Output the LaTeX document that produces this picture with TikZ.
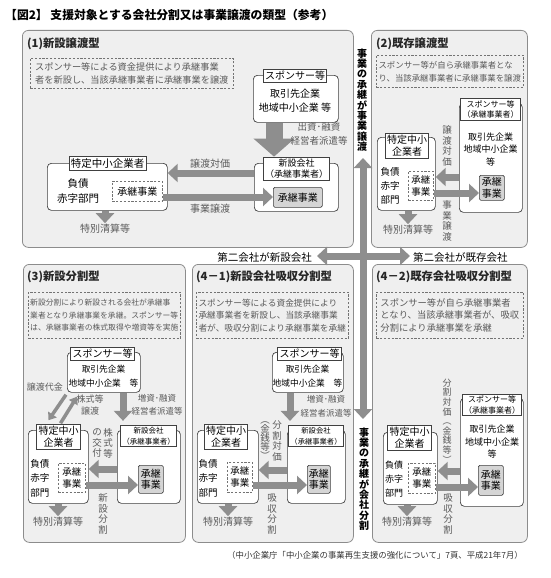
\documentclass[tikz,border=0pt]{standalone}
\usepackage{fontspec}
\setmainfont{Noto Sans CJK JP}
\usetikzlibrary{arrows.meta}

\definecolor{panelgray}{HTML}{EFEFEF}
\definecolor{edgegray}{HTML}{8C8C8C}
\definecolor{arrgray}{HTML}{8E8E8E}
\definecolor{notegray}{HTML}{5A5A5A}
\definecolor{keygray}{HTML}{D5D5D5}

\newcommand{\jfs}[2]{\fontsize{#1}{#2}\selectfont}

\tikzset{
  sz/.style 2 args={minimum width=#1pt, minimum height=#2pt},
  panel/.style={draw=edgegray, fill=panelgray, rounded corners=6pt, line width=.8pt, inner sep=0pt, anchor=north west},
  rbox/.style={draw=black!75, fill=white, rounded corners=4pt, line width=.7pt, inner sep=0pt, anchor=north west},
  tag/.style={draw=black!75, fill=white, line width=.7pt, inner sep=1.8pt, align=center},
  keybox/.style={draw=black!75, fill=keygray, rounded corners=1.5pt, line width=.7pt, inner sep=0pt, anchor=north west, align=center},
  dbox/.style={draw=black!55, dash pattern=on 2.2pt off 1.6pt, line width=.6pt, inner sep=0pt, anchor=north west, align=left},
  note/.style={text=notegray, align=center, inner sep=1pt},
  hdr/.style={anchor=west, inner sep=0pt, text=black!85, font=\bfseries\jfs{11.3}{13}},
  tate/.style={align=center, inner sep=0pt, text=notegray, font=\jfs{9.5}{10.5}},
  arr/.style={draw=arrgray, line width=7pt, -{Triangle[length=10pt,width=18pt]}},
  bigarr/.style={draw=arrgray, line width=17pt, -{Triangle[length=18pt,width=40pt]}},
  thinarr/.style={draw=arrgray, line width=3.5pt, -{Triangle[length=7pt,width=10pt]}},
}

\begin{document}
\begin{tikzpicture}[x=1pt,y=-1pt]
  \fill[white, use as bounding box] (0,0) rectangle (550,578);
  \node[anchor=west, inner sep=0pt, font=\bfseries\jfs{11.8}{13}] (ttl) at (5,15) {【図2】 支援対象とする会社分割又は事業譲渡の類型（参考）};

  % panels
  \node[panel, sz={331}{217}] (p1) at (22,30) {};
  \node[panel, sz={156}{217}] (p2) at (371,30) {};
  \node[panel, sz={162}{278}] (p3) at (23,264) {};
  \node[panel, sz={161}{278}] (p41) at (192,264) {};
  \node[panel, sz={155}{278}] (p42) at (372,264) {};

  % (1)
  \node[hdr] (h1) at (27,44) {(1)新設譲渡型};
  \node[dbox, sz={203}{30}, text=notegray, font=\jfs{9.2}{13}] (d1) at (30,58)
    {スポンサー等による資金提供により承継事業\\者を新設し、当該承継事業者に承継事業を譲渡};
  \node[rbox, sz={85}{47}] (sp1) at (253,75) {};
  \node[tag, font=\jfs{10}{12}] (sp1l) at (295,75.5) {スポンサー等};
  \node[align=center, font=\jfs{10}{14}] (sp1t) at (295,101) {取引先企業\\地域中小企業 等};
  \node[rbox, sz={84}{48}] (nc1) at (254,163) {};
  \node[tag, font=\jfs{9}{11}] (nc1l) at (296.5,168.5) {新設会社\\（承継事業者）};
  \node[keybox, sz={49}{20}, font=\jfs{10}{12}] (g1) at (273,187) {承継事業};
  \draw[bigarr] (sp1.south -| 274,0) -- (nc1l.north -| 274,0);
  \node[note, font=\jfs{9.5}{13.5}] (fund1) at (319,134) {出資･融資\\経営者派遣等};
  \node[rbox, sz={120}{47}] (t1) at (47,163) {};
  \node[tag, font=\jfs{10.5}{12}] (t1l) at (107.5,163.5) {特定中小企業者};
  \node[align=center, font=\jfs{10.5}{15}] (fs1) at (78,191) {負債\\赤字部門};
  \node[dbox, sz={50}{20}, align=center, font=\jfs{10}{12}] (k1) at (112,181) {承継事業};
  \draw[arr] (nc1.west |- 0,173) -- (t1.east |- 0,173);
  \draw[arr] (k1.east |- 0,197) -- (g1.west |- 0,197);
  \node[note, font=\jfs{10}{12}] (pay1) at (210,164) {譲渡対価};
  \node[note, font=\jfs{10}{12}] (tr1) at (210,209) {事業譲渡};
  \node[note, font=\jfs{10}{12}] (tc1) at (105,229) {特別清算等};
  \draw[arr] (t1.south -| tc1.north) -- (tc1.north);

  % (2)
  \node[hdr] (h2) at (376,44) {(2)既存譲渡型};
  \node[dbox, sz={147}{32}, text=notegray, font=\jfs{8.4}{13}] (d2) at (376,55)
    {スポンサー等が自ら承継事業者とな\\り、当該承継事業者に承継事業を譲渡};
  \node[rbox, sz={63}{109}] (sp2) at (459,103) {};
  \node[tag, font=\jfs{8}{10.5}] (sp2l) at (490.5,109.5) {スポンサー等\\（承継事業者）};
  \node[align=center, font=\jfs{9}{12.5}] (sp2t) at (490.5,149.5) {取引先企業\\地域中小企業\\等};
  \node[keybox, sz={25}{25}, font=\jfs{10}{11.5}] (g2) at (479,175) {承継\\事業};
  \node[rbox, sz={58}{73}] (t2) at (377,137) {};
  \node[tag, font=\jfs{10}{12}] (t2l) at (407,145.5) {特定中小\\企業者};
  \node[align=center, font=\jfs{9.5}{14}] (fs2) at (390,186) {負債\\赤字\\部門};
  \node[dbox, sz={25}{29}, align=center, font=\jfs{9.5}{12}] (k2) at (408,171) {承継\\事業};
  \draw[arr] (sp2.west |- 0,177) -- (t2.east |- 0,177);
  \draw[arr] (k2.east |- 0,193) -- (g2.west |- 0,193);
  \node[tate] (pay2) at (447,146) {譲\\渡\\対\\価};
  \node[tate] (tr2) at (447,221) {事\\業\\譲\\渡};
  \node[note, font=\jfs{10}{12}] (tc2) at (408,230) {特別清算等};
  \draw[arr] (t2.south -| tc2.north) -- (tc2.north);

  % (3)
  \node[hdr] (h3) at (27,277) {(3)新設分割型};
  \node[dbox, sz={152}{46}, text=notegray, font=\jfs{7.8}{12.5}] (d3) at (28,292)
    {新設分割により新設される会社が承継事\\業者となり承継事業を承継。スポンサー等\\は、承継事業者の株式取得や増資等を実施};
  \node[rbox, sz={73}{40}] (sp3) at (67,352) {};
  \node[tag, font=\jfs{10}{12}] (sp3l) at (102.5,353.5) {スポンサー等};
  \node[align=center, font=\jfs{8.7}{14}] (sp3t) at (103.5,376) {取引先企業\\地域中小企業　等};
  \node[rbox, sz={60}{73}] (t3) at (28,430) {};
  \node[tag, font=\jfs{10}{12}] (t3l) at (58.5,437) {特定中小\\企業者};
  \node[align=center, font=\jfs{9.5}{14.5}] (fs3) at (40,478) {負債\\赤字\\部門};
  \node[dbox, sz={27}{29}, align=center, font=\jfs{9.5}{12}] (k3) at (58,463) {承継\\事業};
  \node[rbox, sz={63}{73}] (nc3) at (117,430) {};
  \node[tag, font=\jfs{7.5}{11}] (nc3l) at (148.5,436) {新設会社\\（承継事業者）};
  \node[keybox, sz={25}{28}, font=\jfs{10}{11.5}] (g3) at (138,465) {承継\\事業};
  \draw[arr, shorten >=4pt] (sp3.south -| 123,0) -- (nc3l.north -| 123,0);
  \node[note, font=\jfs{8.5}{13}] (fund3) at (157,405) {増資･融資\\経営者派遣等};
  \draw[thinarr] ([xshift=-1pt,yshift=-2pt]sp3.south west) -- ([xshift=-10pt,yshift=4pt]t3l.north);
  \draw[thinarr] ([xshift=2pt,yshift=1pt]t3l.north) -- ([xshift=10pt,yshift=-4pt]sp3.south west);
  \node[note, font=\jfs{9}{11}] (pay3) at (45,387) {譲渡代金};
  \node[note, font=\jfs{9}{11.5}] (sh3) at (90,405) {株式等\\譲渡};
  \draw[arr] (nc3.west |- 0,469) -- (t3.east |- 0,469);
  \draw[arr] (k3.east |- 0,485) -- (g3.west |- 0,485);
  \node[tate] (sh3a) at (108,443) {株\\式\\等};
  \node[tate] (sh3b) at (97,443) {の\\交\\付};
  \node[tate] (sp3v) at (103,514) {新\\設\\分\\割};
  \node[note, font=\jfs{10}{12}] (tc3) at (58,522) {特別清算等};
  \draw[arr] (t3.south -| tc3.north) -- (tc3.north);

  % (4-1)
  \node[hdr] (h41) at (196,277) {(4－1)新設会社吸収分割型};
  \node[dbox, sz={152}{46}, text=notegray, font=\jfs{8.7}{12.5}] (d41) at (196,292)
    {スポンサー等による資金提供により\\承継事業者を新設し、当該承継事業\\者が、吸収分割により承継事業を承継};
  \node[rbox, sz={71}{40}] (sp41) at (272,352) {};
  \node[tag, font=\jfs{10}{12}] (sp41l) at (309.5,353.5) {スポンサー等};
  \node[align=center, font=\jfs{8.7}{14}] (sp41t) at (307.5,376) {取引先企業\\地域中小企業　等};
  \node[rbox, sz={61}{73}] (t41) at (197,430) {};
  \node[tag, font=\jfs{10}{12}] (t41l) at (226,437) {特定中小\\企業者};
  \node[align=center, font=\jfs{9.5}{14.5}] (fs41) at (208,478) {負債\\赤字\\部門};
  \node[dbox, sz={25}{30}, align=center, font=\jfs{9.5}{12}] (k41) at (227,462) {承継\\事業};
  \node[rbox, sz={58}{73}] (nc41) at (287,430) {};
  \node[tag, font=\jfs{7.3}{11}] (nc41l) at (316,436) {新設会社\\（承継事業者）};
  \node[keybox, sz={23}{28}, font=\jfs{10}{11.5}] (g41) at (307,465) {承継\\事業};
  \draw[arr, shorten >=4pt] (sp41.south -| 290,0) -- (nc41l.north -| 290,0);
  \node[note, font=\jfs{8.5}{14}] (fund41) at (326,406) {増資･融資\\経営者派遣等};
  \draw[arr] (nc41.west |- 0,470) -- (t41.east |- 0,470);
  \draw[arr] (k41.east |- 0,485) -- (g41.west |- 0,485);
  \node[tate] (pay41a) at (277,441) {分\\割\\対\\価};
  \node[tate, font=\jfs{9.5}{9}] (pay41b) at (265,441) {︵\\金\\銭\\等\\︶};
  \node[tate] (ab41) at (272,514) {吸\\収\\分\\割};
  \node[note, font=\jfs{10}{12}] (tc41) at (228,522) {特別清算等};
  \draw[arr] (t41.south -| tc41.north) -- (tc41.north);

  % (4-2)
  \node[hdr] (h42) at (376,277) {(4－2)既存会社吸収分割型};
  \node[dbox, sz={147}{46}, text=notegray, font=\jfs{9.3}{12.5}] (d42) at (376,292)
    {スポンサー等が自ら承継事業者\\となり、当該承継事業者が、吸収\\分割により承継事業を承継};
  \node[rbox, sz={63}{108}] (sp42) at (460,398) {};
  \node[tag, font=\jfs{8}{10.5}] (sp42l) at (492,405) {スポンサー等\\（承継事業者）};
  \node[align=center, font=\jfs{9}{12.5}] (sp42t) at (492,442) {取引先企業\\地域中小企業\\等};
  \node[keybox, sz={25}{30}, font=\jfs{10}{11.5}] (g42) at (478,465) {承継\\事業};
  \node[rbox, sz={54}{72}] (t42) at (383,432) {};
  \node[tag, font=\jfs{10}{12}] (t42l) at (409.5,438) {特定中小\\企業者};
  \node[align=center, font=\jfs{9}{14}] (fs42) at (394,479) {負債\\赤字\\部門};
  \node[dbox, sz={27}{30}, align=center, font=\jfs{9.5}{12}] (k42) at (408,463) {承継\\事業};
  \draw[arr] (sp42.west |- 0,471) -- (t42.east |- 0,471);
  \draw[arr] (k42.east |- 0,487) -- (g42.west |- 0,487);
  \node[tate, font=\jfs{9}{9.6}] (pay42) at (447,421) {分\\割\\対\\価\\︵\\金\\銭\\等\\︶};
  \node[tate] (ab42) at (448,514) {吸\\収\\分\\割};
  \node[note, font=\jfs{10}{12}] (tc42) at (407,522) {特別清算等};
  \draw[arr] (t42.south -| tc42.north) -- (tc42.north);

  % centre cross
  \node[align=center, inner sep=0pt, font=\bfseries\jfs{10}{10.4}] (vt1) at (362,100) {事\\業\\の\\承\\継\\が\\事\\業\\譲\\渡};
  \node[align=center, inner sep=0pt, font=\bfseries\jfs{10}{10.4}] (vt2) at (364,479) {事\\業\\の\\承\\継\\が\\会\\社\\分\\割};
  \node[anchor=east, inner sep=0pt, font=\jfs{10.5}{12}] (newco) at (312,257) {第二会社が新設会社};
  \node[anchor=west, inner sep=0pt, font=\jfs{10.5}{12}] (oldco) at (413,257) {第二会社が既存会社};
  \coordinate (hub) at (363,256);
  \coordinate (upend) at (363,158);
  \coordinate (downend) at (363,419);
  \coordinate (leftend) at (317,256);
  \coordinate (rightend) at (410,256);
  \draw[arr] (hub) -- (upend);
  \draw[arr] (hub) -- (downend);
  \draw[arr] (hub) -- (leftend);
  \draw[arr] (hub) -- (rightend);

  \node[anchor=east, inner sep=0pt, text=black!80, font=\jfs{8.4}{10}] (src) at (523,555) {（中小企業庁「中小企業の事業再生支援の強化について」7頁、平成21年7月）};
\end{tikzpicture}
\end{document}
